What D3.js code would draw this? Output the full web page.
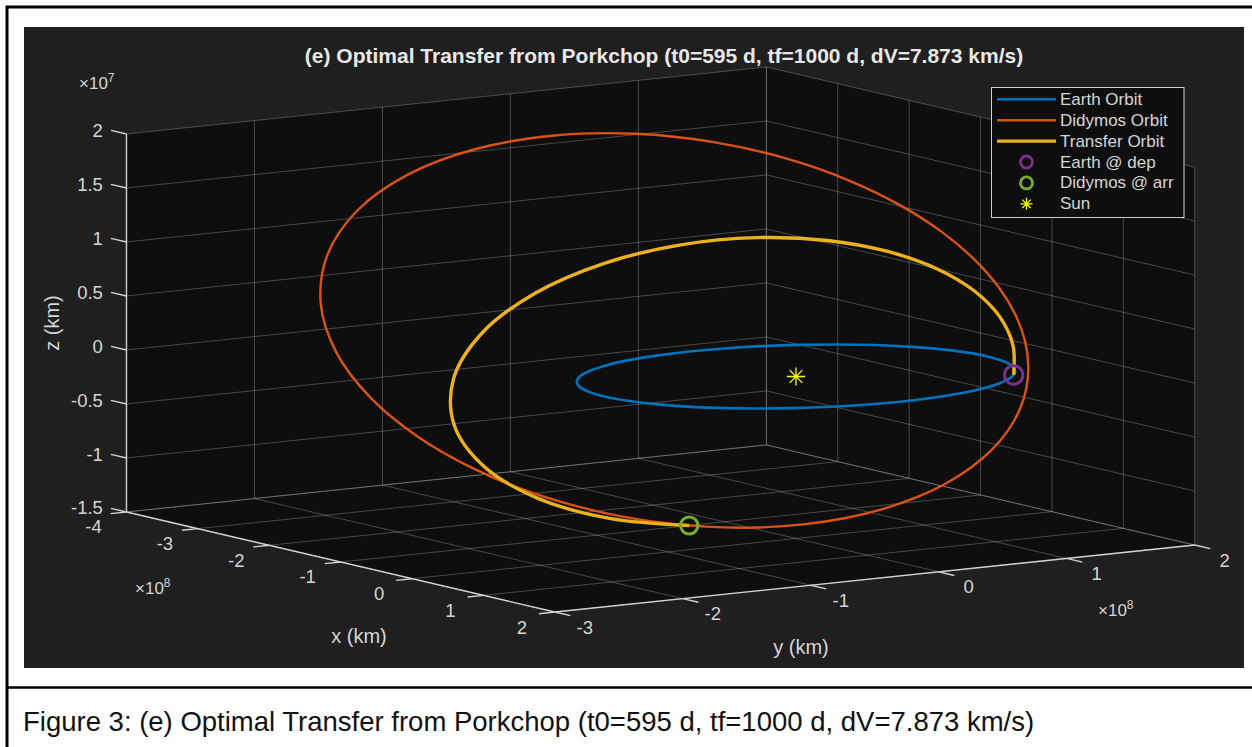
<!DOCTYPE html>
<html>
<head>
<meta charset="utf-8">
<script src="https://cdn.jsdelivr.net/npm/d3@7"></script>
<style>
  html, body { margin: 0; padding: 0; background: #ffffff; }
  svg { display: block; }
  text { font-family: "Liberation Sans", Arial, Helvetica, sans-serif; }
</style>
</head>
<body>
<svg id="page" width="1252" height="747"></svg>
<script>
// Positions use the axis exponents: x and y in 1e8 km, z in 1e7 km.

// Earth orbit (heliocentric, ecliptic plane)
const earthX = [1.496,1.473,1.406,1.296,1.146,0.962,0.748,0.512,0.260,0,-0.260,-0.512,-0.748,-0.962,-1.146,-1.296,-1.406,-1.473,
                -1.496,-1.473,-1.406,-1.296,-1.146,-0.962,-0.748,-0.512,-0.260,0,0.260,0.512,0.748,0.962,1.146,1.296,1.406,1.473];
const earthY = [0,0.260,0.512,0.748,0.962,1.146,1.296,1.406,1.473,1.496,1.473,1.406,1.296,1.146,0.962,0.748,0.512,0.260,
                0,-0.260,-0.512,-0.748,-0.962,-1.146,-1.296,-1.406,-1.473,-1.496,-1.473,-1.406,-1.296,-1.146,-0.962,-0.748,-0.512,-0.260];
const earthZ = [0,0,0,0,0,0,0,0,0,0,0,0,0,0,0,0,0,0,0,0,0,0,0,0,0,0,0,0,0,0,0,0,0,0,0,0];

// Didymos orbit
const didymosX = [1.2766,1.1207,0.9372,0.7260,0.4868,0.2193,-0.0767,-0.4008,-0.7516,-1.1256,-1.5165,-1.9134,-2.2998,-2.6529,-2.9427,-3.1359,-3.2000,-3.1127,
                  -2.8684,-2.4840,-1.9953,-1.4494,-0.8925,-0.3631,0.1131,0.5220,0.8590,1.1256,1.3269,1.4691,1.5590,1.6025,1.6049,1.5707,1.5030,1.4044];
const didymosY = [0.8133,1.0270,1.2214,1.3946,1.5439,1.6659,1.7559,1.8079,1.8145,1.7669,1.6550,1.4682,1.1972,0.8365,0.3874,-0.1369,-0.7094,-1.2893,
                  -1.8274,-2.2761,-2.6004,-2.7842,-2.8307,-2.7578,-2.5903,-2.3546,-2.0738,-1.7669,-1.4480,-1.1273,-0.8116,-0.5053,-0.2113,0.0686,0.3332,0.5817];
const didymosZ = [-0.5878,-0.4622,-0.3241,-0.1738,-0.0118,0.1617,0.3459,0.5397,0.7408,0.9458,1.1494,1.3435,1.5172,1.6563,1.7443,1.7642,1.7022,1.5526,
                  1.3207,1.0244,0.6899,0.3471,0.0216,-0.2677,-0.5103,-0.7029,-0.8467,-0.9458,-1.0057,-1.0316,-1.0284,-1.0005,-0.9513,-0.8836,-0.7995,-0.7005];

// Transfer arc, departure to arrival
const transferX = [0.8794,0.5360,0.1583,-0.2427,-0.6540,-1.0590,-1.4362,-1.7575,-1.9884,-2.0913,-2.0325,-1.7937,-1.3837,-0.8440,-0.2415,0.3487,0.8631,1.2730];
const transferY = [1.2104,1.3964,1.5059,1.5324,1.4688,1.3078,1.0435,0.6746,0.2090,-0.3312,-0.9049,-1.4525,-1.9044,-2.1986,-2.2980,-2.2014,-1.9386,-1.5443];
const transferZ = [0,0.1981,0.3873,0.5613,0.7124,0.8316,0.9082,0.9303,0.8859,0.7660,0.5691,0.3056,0,-0.3118,-0.5911,-0.8063,-0.9402,-0.9915];

// Single points: [x, y, z]
const earthDep = [0.8794, 1.2104, 0];
const didymosArr = [1.2730, -1.5443, -0.9915];
const sunPos = [0, 0, 0];

// Axis ticks
const xTicks = [-4,-3,-2,-1,0,1,2];
const yTicks = [-3,-2,-1,0,1,2];
const zTicks = [-1.5,-1,-0.5,0,0.5,1,1.5,2];
const xExponent = "8", yExponent = "8", zExponent = "7";

const titleText = "(e) Optimal Transfer from Porkchop (t0=595 d, tf=1000 d, dV=7.873 km/s)";
const captionText = "Figure 3: (e) Optimal Transfer from Porkchop (t0=595 d, tf=1000 d, dV=7.873 km/s)";
const legendLabels = ["Earth Orbit","Didymos Orbit","Transfer Orbit","Earth @ dep","Didymos @ arr","Sun"];

// ---------- colours ----------
const C = {
  earth: "#0072BD", didymos: "#D95319", transfer: "#EDB120",
  dep: "#7E2F8E", arr: "#77AC30", sun: "#FFFF00",
  fig: "#1f1f1f", pane: "#0e0e0e", axis: "#d2d2d2", text: "#d6d6d6"
};

// ---------- 3-D orthographic view ----------
const AZ = 56.2 * Math.PI / 180, EL = 9.0 * Math.PI / 180;
const BOX = 770, BOXZ = 382.7;        // plot box edge lengths (px)
const CX = 660.6, CY = 339.5;         // screen position of the box centre
const sx = d3.scaleLinear().domain([-4, 2]).range([-BOX / 2, BOX / 2]);
const sy = d3.scaleLinear().domain([-3, 2]).range([-BOX / 2, BOX / 2]);
const sz = d3.scaleLinear().domain([-1.5, 2]).range([-BOXZ / 2, BOXZ / 2]);
function P(x, y, z) {
  const bx = sx(x), by = sy(y), bz = sz(z);
  return [CX + bx * Math.cos(AZ) + by * Math.sin(AZ),
          CY + (bx * Math.sin(AZ) - by * Math.cos(AZ)) * Math.sin(EL) - bz * Math.cos(EL)];
}
function unit(a, b) { const dx = b[0] - a[0], dy = b[1] - a[1], l = Math.hypot(dx, dy); return [dx / l, dy / l]; }

const svg = d3.select("#page");
svg.append("rect").attr("width", 1252).attr("height", 747).attr("fill", "#ffffff");

// document frame and caption
svg.append("path").attr("d", "M7,747 V7 H1252").attr("fill", "none").attr("stroke", "#000").attr("stroke-width", 3);
svg.append("line").attr("x1", 7).attr("x2", 1252).attr("y1", 687.5).attr("y2", 687.5).attr("stroke", "#000").attr("stroke-width", 2.5);
svg.append("text").attr("x", 23).attr("y", 731).attr("font-size", 27.5).attr("fill", "#111").text(captionText);

// figure background
svg.append("rect").attr("x", 24).attr("y", 27).attr("width", 1220).attr("height", 641).attr("fill", C.fig);

const g = svg.append("g");

// back panes
const hull = [[-4,-3,-1.5],[-4,-3,2],[-4,2,2],[2,2,2],[2,2,-1.5],[2,-3,-1.5]].map(p => P(...p));
g.append("polygon").attr("points", hull.map(p => p.join(",")).join(" ")).attr("fill", C.pane);

// grid lines on the three back planes
const grid = [];
yTicks.forEach(t => grid.push([[-4, t, -1.5], [-4, t, 2]]));
zTicks.forEach(t => grid.push([[-4, -3, t], [-4, 2, t]]));
xTicks.forEach(t => grid.push([[t, 2, -1.5], [t, 2, 2]]));
zTicks.forEach(t => grid.push([[-4, 2, t], [2, 2, t]]));
xTicks.forEach(t => grid.push([[t, -3, -1.5], [t, 2, -1.5]]));
yTicks.forEach(t => grid.push([[-4, t, -1.5], [2, t, -1.5]]));
g.append("g").selectAll("line").data(grid).join("line")
  .attr("x1", d => P(...d[0])[0]).attr("y1", d => P(...d[0])[1])
  .attr("x2", d => P(...d[1])[0]).attr("y2", d => P(...d[1])[1])
  .attr("stroke", C.axis).attr("stroke-opacity", 0.3).attr("stroke-width", 1);

// axis lines
const axes = [[[-4,-3,-1.5],[-4,-3,2]], [[-4,-3,-1.5],[2,-3,-1.5]], [[2,-3,-1.5],[2,2,-1.5]]];
g.append("g").selectAll("line").data(axes).join("line")
  .attr("x1", d => P(...d[0])[0]).attr("y1", d => P(...d[0])[1])
  .attr("x2", d => P(...d[1])[0]).attr("y2", d => P(...d[1])[1])
  .attr("stroke", C.axis).attr("stroke-width", 1.4);

// ticks and tick labels
const TL = 16;
const tickG = g.append("g").attr("font-size", 18.5).attr("fill", C.text);
function tick(p0, pdir) {
  const d = unit(p0, pdir);
  const p1 = [p0[0] + d[0] * TL, p0[1] + d[1] * TL];
  tickG.append("line").attr("x1", p0[0]).attr("y1", p0[1]).attr("x2", p1[0]).attr("y2", p1[1])
    .attr("stroke", C.axis).attr("stroke-width", 1.4);
  return p1;
}
zTicks.forEach(t => {
  const p1 = tick(P(-4, -3, t), P(-5, -3, t));
  tickG.append("text").attr("x", p1[0] - 8).attr("y", p1[1] - (t === -1.5 ? 1 : 0)).attr("text-anchor", "end")
    .attr("dominant-baseline", "central").text(String(t));
});
xTicks.forEach(t => {
  const p0 = P(t, -3, -1.5);
  tick(p0, P(t, -4, -1.5));
  tickG.append("text").attr("x", p0[0] - 33).attr("y", p0[1] + 15).attr("text-anchor", "middle")
    .attr("dominant-baseline", "central").text(String(t));
});
yTicks.forEach(t => {
  const p0 = P(2, t, -1.5);
  tick(p0, P(3, t, -1.5));
  tickG.append("text").attr("x", p0[0] + 30).attr("y", p0[1] + 15).attr("text-anchor", "middle")
    .attr("dominant-baseline", "central").text(String(t));
});

// exponent labels
function expLabel(x, y, e) {
  const t = tickG.append("text").attr("x", x).attr("y", y).attr("font-size", 17);
  t.append("tspan").text("\u00d710");
  t.append("tspan").attr("dy", -7).attr("font-size", 12).text(e);
}
expLabel(79, 89, zExponent);
expLabel(135, 594, xExponent);
expLabel(1098, 616, yExponent);

// axis labels
const labG = g.append("g").attr("font-size", 20).attr("fill", C.text).attr("text-anchor", "middle").attr("dominant-baseline", "central");
labG.append("text").attr("transform", "translate(52,323) rotate(-90)").text("z (km)");
labG.append("text").attr("x", 359).attr("y", 636).text("x (km)");
labG.append("text").attr("x", 801).attr("y", 647).text("y (km)");

// title
g.append("text").attr("x", 664).attr("y", 55).attr("text-anchor", "middle").attr("dominant-baseline", "central")
  .attr("font-size", 21).attr("font-weight", "bold").attr("fill", "#e8e8e8").text(titleText);

// ---------- orbits ----------
const pts = (X, Y, Z) => X.map((x, i) => P(x, Y[i], Z[i]));
const closed = d3.line().curve(d3.curveCatmullRomClosed.alpha(0.5));
const open = d3.line().curve(d3.curveCatmullRom.alpha(0.5));
const dataG = g.append("g").attr("fill", "none").attr("stroke-linejoin", "round");
dataG.append("path").attr("d", closed(pts(earthX, earthY, earthZ))).attr("stroke", C.earth).attr("stroke-width", 2.6);
dataG.append("path").attr("d", closed(pts(didymosX, didymosY, didymosZ))).attr("stroke", C.didymos).attr("stroke-width", 2.4);
dataG.append("path").attr("d", open(pts(transferX, transferY, transferZ))).attr("stroke", C.transfer).attr("stroke-width", 3.4);

// markers
function ring(sel, p, r, color, w) {
  sel.append("circle").attr("cx", p[0]).attr("cy", p[1]).attr("r", r).attr("fill", "none").attr("stroke", color).attr("stroke-width", w);
}
function asterisk(sel, p, r, color, w) {
  let d = "";
  [0, 45, 90, 135].forEach(a => {
    const c = Math.cos(a * Math.PI / 180) * r, s = Math.sin(a * Math.PI / 180) * r;
    d += `M${p[0] - c},${p[1] - s}L${p[0] + c},${p[1] + s}`;
  });
  sel.append("path").attr("d", d).attr("stroke", color).attr("stroke-width", w).attr("fill", "none");
}
ring(dataG, P(...earthDep), 9.2, C.dep, 3);
ring(dataG, P(...didymosArr), 8.6, C.arr, 3);
asterisk(dataG, P(...sunPos), 9, C.sun, 1.3);

// ---------- legend ----------
const lg = g.append("g");
lg.append("rect").attr("x", 991.5).attr("y", 87.5).attr("width", 192.5).attr("height", 130)
  .attr("fill", "#0e0e0e").attr("stroke", "#cfcfcf").attr("stroke-width", 1);
const rowY = i => 99.3 + i * 20.9;
const lineStyles = [[C.earth, 2.4], [C.didymos, 2.4], [C.transfer, 3.4]];
lineStyles.forEach((s, i) => {
  lg.append("line").attr("x1", 997).attr("x2", 1056).attr("y1", rowY(i)).attr("y2", rowY(i))
    .attr("stroke", s[0]).attr("stroke-width", s[1]);
});
ring(lg, [1026.5, rowY(3)], 6, C.dep, 2.8);
ring(lg, [1026.5, rowY(4)], 6, C.arr, 2.8);
asterisk(lg, [1026.5, rowY(5)], 6, C.sun, 1.2);
lg.selectAll("text.lab").data(legendLabels).join("text").attr("class", "lab")
  .attr("x", 1060).attr("y", (d, i) => rowY(i)).attr("dominant-baseline", "central")
  .attr("font-size", 17).attr("fill", C.text).text(d => d);
</script>
</body>
</html>
